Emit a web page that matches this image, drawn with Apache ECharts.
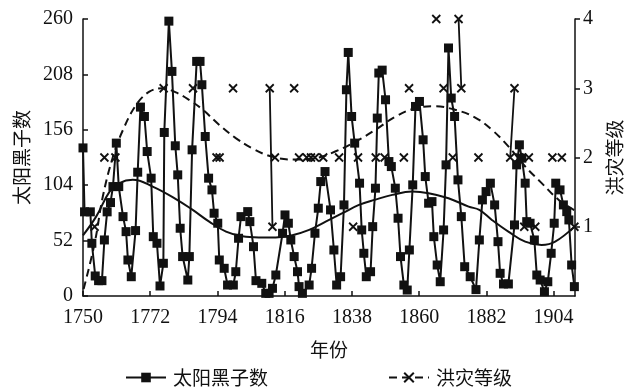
<!DOCTYPE html>
<html>
<head>
<meta charset="utf-8">
<script src="https://cdn.jsdelivr.net/npm/echarts@6/dist/echarts.min.js"></script>
<style>
html,body{margin:0;padding:0;background:#fff;}
#chart{width:634px;height:388px;}
</style>
</head>
<body>
<div id="chart"></div>
<script>
// ---- data ----
const xTicks = [1750, 1772, 1794, 1816, 1838, 1860, 1882, 1904];
const leftTicks = [0, 52, 104, 156, 208, 260];
const rightTicks = [1, 2, 3, 4];

const sunYears = [1750.0,1750.5,1752.4,1752.9,1754.0,1755.1,1756.2,1757.0,1757.9,1759.0,
1759.8,1760.9,1761.7,1763.1,1764.1,1764.7,1765.8,1767.2,1767.9,1768.8,
1770.1,1771.0,1772.3,1773.0,1774.2,1775.2,1776.3,1776.6,1778.1,1779.1,
1780.2,1781.0,1781.8,1782.6,1784.3,1784.8,1785.7,1787.2,1788.3,1788.9,
1790.0,1791.1,1792.2,1792.9,1794.1,1794.6,1796.2,1797.3,1799.2,1800.0,
1800.9,1801.7,1803.9,1804.6,1805.8,1806.6,1808.5,1809.8,1810.9,1812.0,
1813.1,1815.3,1816.1,1817.2,1818.0,1819.1,1820.2,1820.7,1821.8,1824.0,
1824.8,1825.9,1827.0,1827.8,1829.2,1831.0,1832.1,1833.0,1834.3,1835.4,
1836.2,1836.8,1837.9,1838.9,1840.5,1841.2,1841.9,1842.7,1844.1,1844.8,
1845.7,1846.3,1846.8,1847.9,1849.0,1850.1,1850.9,1852.2,1853.1,1853.9,
1855.0,1856.1,1856.8,1857.9,1858.8,1860.1,1861.3,1862.0,1863.1,1864.2,
1864.8,1865.9,1866.9,1868.0,1868.8,1869.6,1870.5,1871.6,1872.7,1873.8,
1874.9,1876.7,1878.6,1879.7,1880.7,1881.9,1883.3,1884.7,1885.8,1886.5,
1887.6,1889.2,1891.2,1891.9,1892.8,1893.6,1894.7,1895.2,1896.3,1897.7,
1898.5,1899.6,1901.0,1902.1,1903.2,1904.2,1904.7,1906.1,1907.2,1908.3,
1909.0,1909.9,1910.8];
const sunValues = [139,79,79,49.5,18.8,14.4,14.4,52.6,79,87.7,
102.7,143.5,102.7,74.5,60.4,33.8,18.1,61.4,116.2,177.3,
168.5,135.6,110.6,55.7,49.5,9.4,30.7,153.5,258,210.8,
141,113.7,63.6,37,15,37,137.2,220.2,220.2,198.3,
149.7,110.6,99.6,77.7,68.3,33.8,26,10.3,10.3,22.8,
54.2,74.5,79.2,69.8,46.3,14.4,11.9,2.5,2.5,7.2,
19.7,58.9,76.1,68.3,52.6,37,22.8,8.8,2.5,10.3,
26,58.9,82.4,107.4,116.8,80.8,43.2,10.3,18.1,85.5,
193.6,228.6,168.5,143.5,105.9,62,40.1,18.1,22.8,65.1,
101.2,167,209.3,212,184.2,126.2,121.5,101.2,73,37,
10.3,5.6,43.2,104.3,177.9,182.6,146.6,112.1,87.1,88.6,
55.7,29.1,13.4,62,123.1,232.8,185.8,168.5,109,74.5,
27.5,18.1,6,52.6,90.2,98,105.9,85.5,51,21.3,
11.3,11.3,66.7,123.1,141.9,129.4,105.9,69.8,68.3,52.6,
19.7,15,4,13.4,40.1,68.3,105.9,99.6,85.5,79.2,
71.4,29.1,8.8];

const floodYears = [1753.8,1757.0,1760.6,1776.4,1786.0,1793.7,1794.7,1799.1,1811.1,1812.0,
1812.8,1819.1,1820.7,1823.2,1824.6,1825.9,1828.6,1833.8,1838.4,1840.0,
1845.8,1848.7,1855.0,1856.7,1865.6,1868.0,1871.0,1872.9,1873.8,1879.4,
1889.8,1891.2,1892.8,1894.4,1895.9,1898.0,1903.6,1906.7,1910.8];
const floodLevels = [1,2,2,3,3,2,2,3,3,1,
2,3,2,2,2,2,2,2,1,2,
2,2,2,3,4,3,2,4,3,2,
2,3,2,1,2,1,2,2,1];
// flood years whose mark is joined by a segment to the next flood mark
const floodJoinNext = [1811.1, 1872.9, 1889.8];

const sunTrendYears = [1750,1754.3,1758.7,1761.9,1766.3,1772.8,1780.4,1785.9,1791.3,1796.8,
1802.2,1807.5,1813.1,1818.5,1824,1829.4,1834.9,1840.3,1845.7,1851.2,
1857.7,1863.1,1869.6,1876.2,1879.7,1883.8,1889.2,1894.7,1900.1,1904.5,1910.8];
const sunTrend = [57,74.5,98,106,109,102.7,91,80.8,69.8,60.4,
56,55,55,57,62,69.8,77.7,85.5,90.5,94.9,
98,96.5,91.8,83.9,80.8,71.4,60.4,51,47.9,51,65.1];

const floodTrendYears = [1750.2,1753.8,1756.5,1759.8,1763.1,1767.4,1771.7,1776.1,1780.4,1784.8,
1789.2,1794.6,1800,1805.5,1812,1819.6,1826.1,1832.7,1839.2,1845.7,
1852.2,1858.7,1865.2,1871.7,1878.2,1883.8,1889.2,1894.7,1900.1,1905.6,1910.8];
const floodTrend = [0.1,0.76,1.44,2.01,2.4,2.76,2.95,3.0,2.94,2.83,
2.69,2.47,2.28,2.13,2.01,1.97,1.99,2.09,2.23,2.4,
2.59,2.71,2.74,2.69,2.58,2.4,2.16,1.87,1.63,1.39,1.24];

// ---- build series data ----
const sunData = sunYears.map((y, i) => [y, sunValues[i]]);
const floodData = [];
floodYears.forEach((y, i) => {
  floodData.push([y, floodLevels[i]]);
  if (floodJoinNext.indexOf(y) < 0) floodData.push([y, null]);
});
const sunTrendData = sunTrendYears.map((y, i) => [y, sunTrend[i]]);
const floodTrendData = floodTrendYears.map((y, i) => [y, floodTrend[i]]);

const INK = '#111';
const NUMFONT = '"Liberation Serif","DejaVu Serif",serif';
const CJK = '"Noto Sans CJK SC","Noto Sans",sans-serif';
const crossPath = 'path://M0,0L10,10M10,0L0,10';

const chart = echarts.init(document.getElementById('chart'));
chart.setOption({
  animation: false,
  backgroundColor: '#fff',
  grid: { left: 83, right: 59, top: 19, bottom: 92 },
  legend: {
    left: 120, top: 363, itemGap: 120, itemWidth: 40, itemHeight: 12,
    textStyle: { fontFamily: CJK, fontSize: 19, color: INK, padding: [0,0,0,2] },
    data: [
      { name: '太阳黑子数' },
      { name: '洪灾等级', lineStyle: { type: [8, 5] } }
    ]
  },
  xAxis: {
    type: 'value', min: 1750, max: 1911, interval: 22,
    name: '年份', nameLocation: 'middle', nameGap: 44,
    nameTextStyle: { fontFamily: CJK, fontSize: 19, color: INK },
    axisLine: { show: true, lineStyle: { color: INK, width: 1.5 } },
    axisTick: { show: true, inside: true, length: 5, lineStyle: { color: INK, width: 1.5 } },
    axisLabel: { fontFamily: NUMFONT, fontSize: 20, color: INK, margin: 12, showMaxLabel: false,
      formatter: v => (xTicks.indexOf(v) >= 0 ? String(v) : '') },
    splitLine: { show: false }
  },
  yAxis: [
    {
      type: 'value', min: 0, max: 260, interval: 52, position: 'left',
      name: '太阳黑子数', nameLocation: 'middle', nameGap: 52, nameRotate: 90,
      nameTextStyle: { fontFamily: CJK, fontSize: 19, color: INK },
      axisLine: { show: true, lineStyle: { color: INK, width: 1.5 } },
      axisTick: { show: true, inside: true, length: 5, lineStyle: { color: INK, width: 1.5 } },
      axisLabel: { fontFamily: NUMFONT, fontSize: 20, color: INK, margin: 10,
        formatter: v => (leftTicks.indexOf(v) >= 0 ? String(v) : '') },
      splitLine: { show: false }
    },
    {
      type: 'value', min: 0, max: 4, interval: 1, position: 'right',
      name: '洪灾等级', nameLocation: 'middle', nameGap: 30, nameRotate: 90,
      nameTextStyle: { fontFamily: CJK, fontSize: 19, color: INK },
      axisLine: { show: true, lineStyle: { color: INK, width: 1.5 } },
      axisTick: { show: true, inside: false, length: 5, lineStyle: { color: INK, width: 1.5 } },
      axisLabel: { fontFamily: NUMFONT, fontSize: 20, color: INK, margin: 8, showMinLabel: false,
        formatter: v => (rightTicks.indexOf(v) >= 0 ? String(v) : '') },
      splitLine: { show: false }
    }
  ],
  series: [
    {
      name: '太阳黑子数', type: 'line', yAxisIndex: 0, data: sunData,
      symbol: 'rect', symbolSize: 9, showAllSymbol: true,
      lineStyle: { color: INK, width: 2 },
      itemStyle: { color: INK }, z: 3
    },
    {
      name: '洪灾等级', type: 'line', yAxisIndex: 1, data: floodData,
      symbol: crossPath, symbolSize: 8, showAllSymbol: true, connectNulls: false,
      lineStyle: { color: INK, width: 1.8 },
      itemStyle: { color: 'rgba(0,0,0,0)', borderColor: INK, borderWidth: 1.8 }, z: 4
    },
    {
      name: 'sunTrend', type: 'line', yAxisIndex: 0, data: sunTrendData,
      smooth: 0.4, symbol: 'none', lineStyle: { color: INK, width: 2 }, z: 2
    },
    {
      name: 'floodTrend', type: 'line', yAxisIndex: 1, data: floodTrendData,
      smooth: 0.4, symbol: 'none', lineStyle: { color: INK, width: 2, type: [8, 5] }, z: 2
    }
  ]
});
</script>
</body>
</html>
